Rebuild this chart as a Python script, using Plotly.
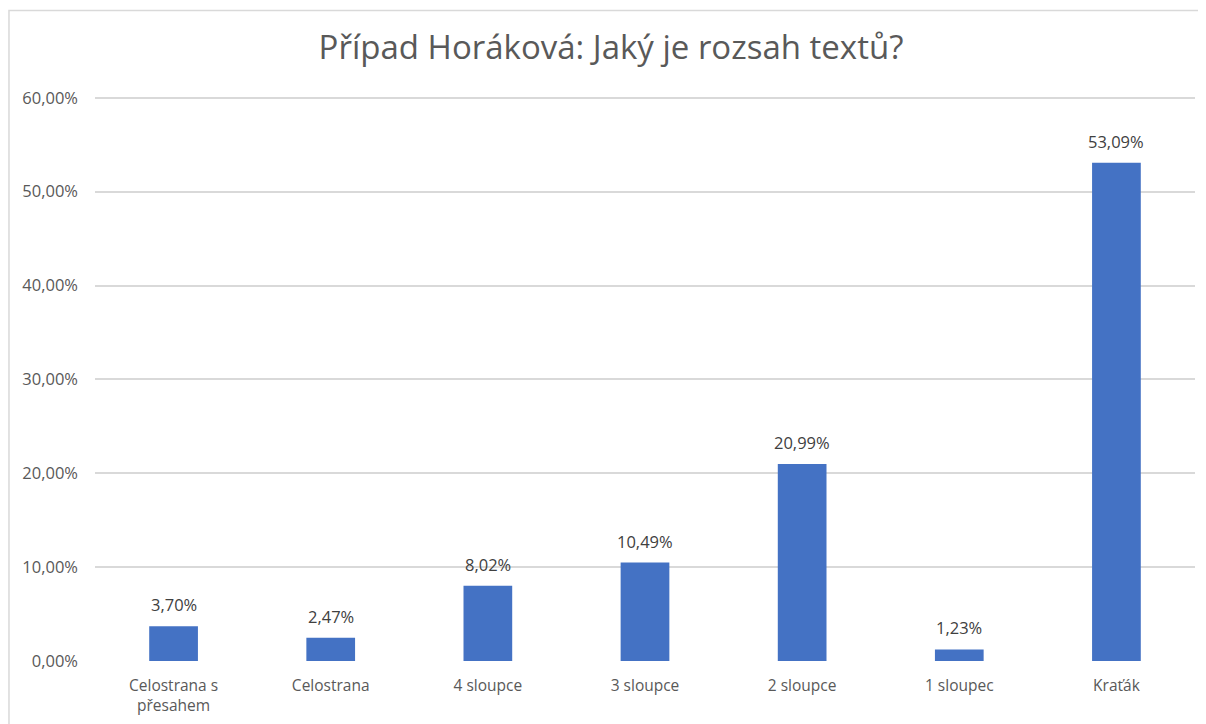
import plotly.graph_objects as go

# chart data
categories = ["Celostrana s<br>přesahem", "Celostrana", "4 sloupce", "3 sloupce",
              "2 sloupce", "1 sloupec", "Kraťák"]
shares = [3.70, 2.47, 8.02, 10.49, 20.99, 1.23, 53.09]
y_ticks = [0, 10, 20, 30, 40, 50, 60]
y_tick_labels = ["0,00%", "10,00%", "20,00%", "30,00%", "40,00%", "50,00%", "60,00%"]

fig = go.Figure()
fig.add_trace(go.Bar(
    x=categories, y=shares,
    marker=dict(color="#4472C4", line=dict(width=0)),
    hoverinfo="skip",
))

# value labels above the bars (a bit more gap than plotly's outside text)
for cat, val in zip(categories, shares):
    fig.add_annotation(x=cat, y=val, text=f"{val:.2f}%".replace(".", ","),
                       showarrow=False, yanchor="bottom", yshift=8,
                       font=dict(size=16.5, color="#404040"))

# light frame around the chart, cut off at right and bottom like the original
fig.add_shape(type="rect", xref="paper", yref="paper",
              x0=-0.0782, x1=1.05, y0=-0.3, y1=1.1178,
              line=dict(color="#D9D9D9", width=1.5), layer="below")

fig.update_layout(
    width=1206, height=724,
    margin=dict(l=87, r=19, t=71, b=71),
    paper_bgcolor="white", plot_bgcolor="white",
    font=dict(family="Open Sans", color="#595959"),
    separators=",.",
    title=dict(text="Případ Horáková: Jaký je rozsah textů?",
               x=0.5, xanchor="center", y=0.945, yanchor="middle",
               font=dict(size=33, color="#595959")),
    bargap=0.69, showlegend=False,
)
fig.update_xaxes(showline=False, ticks="", ticklabelstandoff=13,
                 tickfont=dict(size=15.5, color="#595959"))
fig.update_yaxes(range=[0, 62], tickvals=y_ticks, ticktext=y_tick_labels,
                 showgrid=True, gridcolor="#D9D9D9", gridwidth=1.5,
                 zeroline=False, showline=False, ticks="", ticklabelstandoff=16,
                 tickfont=dict(size=16.5, color="#595959"))

fig.write_html("out.html")
